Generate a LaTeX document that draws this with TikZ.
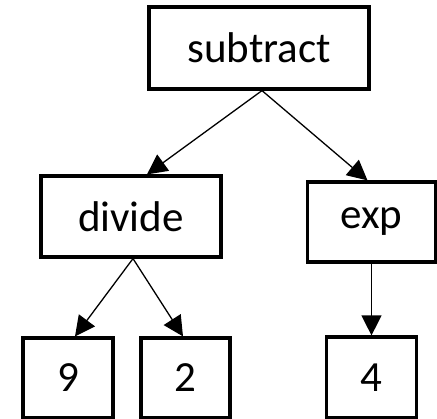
\documentclass[tikz,border=0pt]{standalone}
\usepackage{fontspec}
\setmainfont{Carlito}
\usetikzlibrary{arrows.meta}
\begin{document}
\begin{tikzpicture}[x=1pt,y=1pt,
  box/.style={draw=black, line width=3.2pt, fill=white, inner sep=0pt, font=\fontsize{43}{43}\selectfont},
  conn/.style={line width=1.3pt, -{Triangle[length=20pt,width=20pt]}}]
\useasboundingbox (0,0) rectangle (437,-419);
\node[box, minimum width=220pt, minimum height=82pt] (sub) at (259,-48) {subtract};
\node[box, minimum width=180pt, minimum height=81pt] (div) at (131,-216.5) {divide};
\node[box, minimum width=128pt, minimum height=80pt] (exp) at (371.5,-222) {exp};
\node[box, minimum width=90pt, minimum height=80pt] (nine) at (68,-378) {9};
\node[box, minimum width=89pt, minimum height=80pt] (two) at (185.5,-378) {2};
\node[box, minimum width=90pt, minimum height=81pt] (four) at (371.5,-377.5) {4};
\draw[conn] ([xshift=3pt]sub.south) -- ([xshift=16pt]div.north);
\draw[conn] ([xshift=3pt]sub.south) -- ([xshift=-4pt]exp.north);
\draw[conn] ([xshift=2pt]div.south) -- ([xshift=7pt]nine.north);
\draw[conn] ([xshift=2pt]div.south) -- ([xshift=-2.5pt]two.north);
\draw[conn] (exp.south) -- (four.north);
\end{tikzpicture}
\end{document}
